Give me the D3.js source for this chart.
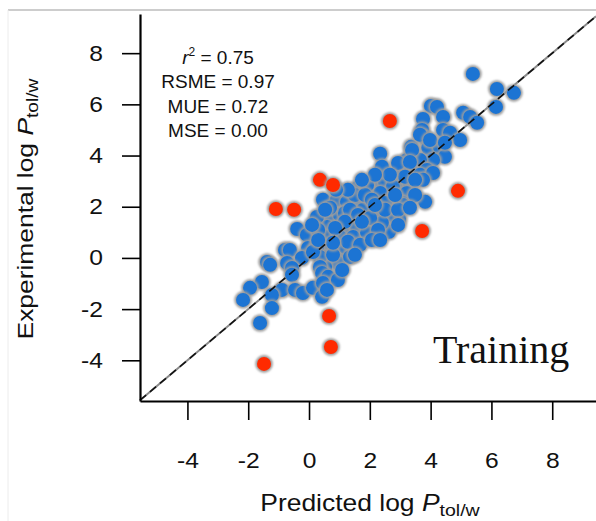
<!DOCTYPE html>
<html>
<head>
<meta charset="utf-8">
<script src="https://cdn.jsdelivr.net/npm/d3@7"></script>
<style>
  body { margin: 0; background: #fff; }
  svg { display: block; font-family: "Liberation Sans", Arial, sans-serif; }
</style>
</head>
<body>
<svg id="chart" width="596" height="521"></svg>
<script>
// training set: predicted vs experimental log P(tol/w)
var predBlue = [
  5.39, 6.18, 6.74, 6.15, 4.01, 4.21, 5.07, 5.30, 4.41, 5.53, 3.75, 3.72, 4.41, 4.64, 4.97,
  3.82, 3.36, 3.92, 4.31, 4.47, 4.08, 3.65, 3.22, 3.88, 3.32, 3.65, 3.06, 2.34, 2.40, 2.93,
  4.08, 3.75, 2.57, 2.11, 1.61, 1.91, 2.99, 2.50, 2.76, 3.32, 2.34, 3.22, 2.76, 2.50, 3.09,
  3.82, 2.96, 2.63, 0.46, 0.92, 1.25, 1.68, 1.78, 2.24, 2.73, 0.69, 1.02, 1.41, 0.59, 1.12,
  1.58, 2.01, 2.40, 0.53, 1.02, 1.45, 1.91, 0.69, 1.12, 0.46, 0.95, 0.53, 0.26, -0.39, -0.07,
  0.30, -0.79, -0.63, -0.03, 0.26, 1.18, -1.38, -1.28, -0.72, -0.23, 0.36, 0.79, -0.56, 0.36, 1.35,
  -0.56, 0.43, 0.63, -1.55, -1.94, -0.89, -0.46, -0.20, 0.13, 0.46, 0.95, -2.17, -1.22, 0.43, -1.22,
  -1.61, 0.13, 0.59, 1.18, 3.65, 3.98, 4.47, 3.39, 3.32, 3.09, 1.91,
  1.51, 1.84, 2.07, 1.35, 1.61, 2.01, 2.50, 2.93, 2.17, 1.18, 1.74, 2.27, 2.83, 3.16, 3.49,
  2.66, 2.17, 1.74, 1.28, 0.89, 0.69, 0.86, 1.28, 1.68, 2.07, 0.79, 0.30, 0.10, 0.53, 3.49,
  3.32, 2.93, 2.34, 1.51, 1.09
];
var expBlue = [
  7.19, 6.60, 6.45, 5.90, 5.94, 5.90, 5.67, 5.51, 5.51, 5.28, 5.43, 5.00, 5.00, 4.89, 4.61,
  4.69, 4.34, 4.30, 4.30, 3.95, 3.83, 3.83, 3.83, 3.44, 3.44, 3.25, 3.32, 4.07, 3.56, 3.71,
  3.32, 3.05, 3.05, 2.93, 2.74, 2.74, 2.85, 2.97, 2.78, 2.93, 2.54, 2.54, 2.27, 2.15, 2.15,
  2.19, 1.52, 1.02, 2.27, 2.27, 2.19, 2.19, 1.88, 1.76, 1.68, 1.60, 1.68, 1.56, 1.21, 1.21,
  1.21, 1.21, 1.37, 0.82, 0.82, 0.82, 0.98, 0.43, 0.20, 0.04, -0.20, -0.35, 1.60, 1.13, 0.90,
  1.09, 0.31, 0.31, 0.39, 0.43, 0.43, -0.16, -0.27, -0.20, 0.00, 0.04, 0.12, -0.39, -0.35, 0.04,
  -0.66, -0.59, -0.74, -0.94, -1.17, -1.25, -1.25, -1.37, -1.17, -0.98, -0.86, -1.64, -1.45, -1.52, -1.96,
  -2.54, 0.23, -1.25, 1.76, 4.81, 4.61, 4.50, 4.22, 3.75, 2.07, 2.85,
  2.46, 2.46, 2.27, 1.88, 1.68, 1.56, 1.88, 1.88, 2.07, 1.41, 1.41, 1.09, 2.46, 3.17, 3.05,
  3.25, 3.25, 3.05, 2.66, 2.66, 1.96, 1.17, 0.63, 0.51, 0.70, 0.59, 0.70, 1.29, 1.88, 2.46,
  1.96, 1.29, 0.70, 0.12, -0.47
];
// outliers
var predRed = [-1.09, -0.49, 0.36, 0.79, 2.66, 4.90, 3.72, 0.66, 0.72, -1.48];
var expRed = [1.91, 1.88, 3.05, 2.85, 5.35, 2.62, 1.05, -2.27, -3.48, -4.14];

var tickValues = [-4, -2, 0, 2, 4, 6, 8];
var statLines = ["RSME = 0.97", "MUE = 0.72", "MSE = 0.00"];
var r2Value = "0.75";

var svg = d3.select("#chart");

var x = d3.scaleLinear().domain([-5.56, 9.44]).range([140, 596]);
var y = d3.scaleLinear().domain([-5.59, 9.53]).range([401, 14]);

var defs = svg.append("defs");
defs.append("filter")
    .attr("id", "halo")
    .attr("x", "-50%").attr("y", "-50%").attr("width", "200%").attr("height", "200%")
  .append("feGaussianBlur")
    .attr("stdDeviation", 0.9);

// faint frame of the original figure
svg.append("line")
    .attr("x1", 8).attr("x2", 596).attr("y1", 10).attr("y2", 10)
    .attr("stroke", "#bdbdbd").attr("stroke-width", 1.5);
svg.append("line")
    .attr("x1", 8).attr("x2", 8).attr("y1", 10).attr("y2", 521)
    .attr("stroke", "#ececec").attr("stroke-width", 1);

var diag = [x.domain()[0], x.domain()[1]];

svg.append("line")
    .attr("x1", x(diag[0])).attr("y1", y(diag[0]))
    .attr("x2", x(diag[1])).attr("y2", y(diag[1]))
    .attr("stroke", "#8a8a8a")
    .attr("stroke-width", 2);

function drawPoints(preds, exps, color) {
  var pts = preds.map(function(p, i) { return { pred: p, exp: exps[i] }; });
  var g = svg.append("g");
  var pt = g.selectAll("g.pt")
      .data(pts)
    .enter().append("g")
      .attr("class", "pt")
      .attr("transform", function(d) { return "translate(" + x(d.pred) + "," + y(d.exp) + ")"; });
  pt.append("circle")
      .attr("r", 8.8)
      .attr("fill", "#9d9d9d")
      .attr("filter", "url(#halo)");
  pt.append("circle")
      .attr("r", 7)
      .attr("fill", color);
}

drawPoints(predBlue, expBlue, "#1c74d3");
drawPoints(predRed, expRed, "#ff2a00");

svg.append("line")
    .attr("x1", x(diag[0])).attr("y1", y(diag[0]))
    .attr("x2", x(diag[1])).attr("y2", y(diag[1]))
    .attr("stroke", "#111")
    .attr("stroke-width", 1.6)
    .attr("stroke-dasharray", "8,5");

// axes (plain hyphen for negatives, as in the original)
var fmt = function(d) { return String(d); };
var xAxis = svg.append("g")
    .attr("transform", "translate(0,401)")
    .call(d3.axisBottom(x).tickValues(tickValues).tickFormat(fmt)
      .tickSize(19).tickSizeOuter(0).tickPadding(32));
var yAxis = svg.append("g")
    .attr("transform", "translate(140,0)")
    .call(d3.axisLeft(y).tickValues(tickValues).tickFormat(fmt)
      .tickSize(18).tickSizeOuter(0).tickPadding(19));

[xAxis, yAxis].forEach(function(ax) {
  ax.select(".domain").attr("stroke", "#000").attr("stroke-width", 2.2);
  ax.selectAll(".tick line").attr("stroke", "#000").attr("stroke-width", 1.6);
  ax.selectAll(".tick text")
      .attr("fill", "#111")
      .style("font-size", "22px")
      .style("font-family", "'Liberation Sans', Arial, sans-serif");
});

var stretch = 1.12;
xAxis.selectAll(".tick text").attr("transform", "scale(" + stretch + ",1)");
yAxis.selectAll(".tick text")
    .attr("x", -37 / stretch)
    .attr("transform", "scale(" + stretch + ",1)");

// axis titles
var xTitle = svg.append("text")
    .attr("text-anchor", "middle")
    .attr("transform", "translate(370,511) scale(1.15,1)")
    .attr("fill", "#111")
    .style("font-size", "23px");
xTitle.append("tspan").text("Predicted log ");
xTitle.append("tspan").style("font-style", "italic").text("P");
xTitle.append("tspan").style("font-size", "17px").attr("dy", 5).text("tol/w");

var yTitle = svg.append("text")
    .attr("text-anchor", "middle")
    .attr("transform", "translate(33,209) rotate(-90) scale(1.2,1)")
    .attr("fill", "#111")
    .style("font-size", "22px");
yTitle.append("tspan").text("Experimental log ");
yTitle.append("tspan").style("font-style", "italic").text("P");
yTitle.append("tspan").style("font-size", "16px").attr("dy", 5).text("tol/w");

// statistics
var stats = svg.append("g")
    .attr("fill", "#111")
    .style("font-size", "19px")
    .attr("text-anchor", "middle");

var r2 = stats.append("text").attr("x", 218).attr("y", 64);
r2.append("tspan").style("font-style", "italic").text("r");
r2.append("tspan").style("font-size", "12px").attr("dy", -8).text("2");
r2.append("tspan").attr("dy", 8).text(" = " + r2Value);

stats.selectAll("text.stat")
    .data(statLines)
  .enter().append("text")
    .attr("class", "stat")
    .attr("x", 218)
    .attr("y", function(d, i) { return 88 + i * 24.5; })
    .text(function(d) { return d; });

svg.append("text")
    .attr("x", 433)
    .attr("y", 363)
    .attr("fill", "#111")
    .style("font-family", "'Liberation Serif', 'Times New Roman', serif")
    .style("font-size", "40px")
    .text("Training");
</script>
</body>
</html>
